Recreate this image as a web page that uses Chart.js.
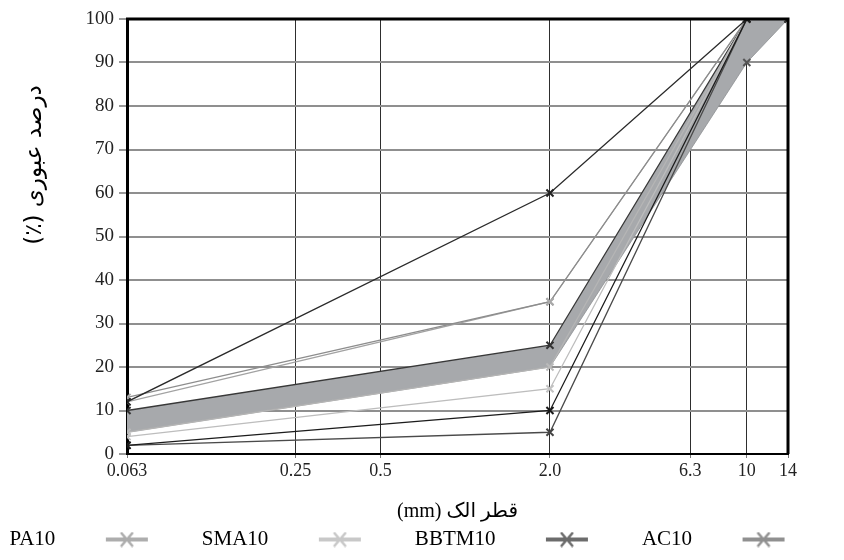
<!DOCTYPE html>
<html>
<head>
<meta charset="utf-8">
<script src="https://cdn.jsdelivr.net/npm/chart.js@4.4.0/dist/chart.umd.min.js"></script>
<style>
  html, body { margin: 0; padding: 0; background: #fff; }
  #wrap { width: 844px; height: 560px; }
</style>
</head>
<body>
<div id="wrap"><canvas id="grading"></canvas></div>
<script>
// ---------- data ----------
// sieve sizes (mm) where every grading curve is read
const sieveSizes = [0.063, 2.0, 10, 14];
const tickValues = [0.063, 0.25, 0.5, 2.0, 6.3, 10, 14];
const tickLabels = ['0.063', '0.25', '0.5', '2.0', '6.3', '10', '14'];

// percent passing, null = curve stops there
const ac10Upper  = [12, 60, 100, null];
const ac10Lower  = [2, 10, 100, null];
const pa10Upper  = [13, 35, 100, null];
const pa10Lower  = [2, 5, 100, null];
const sma10Upper = [12, 35, 100, null];
const sma10Lower = [4, 15, 100, null];
const sma10Mid   = [5, 20, 100, null];
const bbtmUpper  = [10, 25, 100, 100];
const bbtmLower  = [5, 20, 90, 100];

const legendNames  = ['PA10', 'SMA10', 'BBTM10', 'AC10'];
const legendColors = ['#adadad', '#c8c8c8', '#6c6c6c', '#909090'];

const xTitle = 'قطر الک (mm)';
const yTitle = 'درصد عبوری (٪)';

// ---------- helpers ----------
function pts(arr) {
  return sieveSizes.map((x, i) => ({ x: x, y: arr[i] }));
}

function curve(label, arr, color, markColor) {
  return {
    label: label,
    data: pts(arr),
    yAxisID: 'y',
    borderColor: color,
    borderWidth: 1.3,
    pointStyle: 'crossRot',
    pointRadius: 5,
    pointBorderWidth: 2,
    pointBorderColor: markColor || color,
    pointBackgroundColor: 'transparent',
    fill: false,
    tension: 0
  };
}

// line + cross swatch for the legend, blank on the right keeps items apart
function legendSwatch(color) {
  const c = document.createElement('canvas');
  c.width = 132; c.height = 16;
  const g = c.getContext('2d');
  g.strokeStyle = color;
  g.lineWidth = 4;
  g.beginPath(); g.moveTo(40, 8); g.lineTo(82, 8); g.stroke();
  g.lineWidth = 2.5;
  g.beginPath();
  g.moveTo(55, 1); g.lineTo(67, 15);
  g.moveTo(67, 1); g.lineTo(55, 15);
  g.stroke();
  return c;
}

// frame on top/right + axis titles
const framePlugin = {
  id: 'framePlugin',
  afterDraw(chart) {
    const { ctx, chartArea: a } = chart;
    ctx.save();
    ctx.strokeStyle = '#000';
    ctx.lineWidth = 3;
    ctx.beginPath();
    ctx.moveTo(a.left - 1, a.top); ctx.lineTo(a.right, a.top); ctx.lineTo(a.right, a.bottom);
    ctx.stroke();

    ctx.fillStyle = '#000';
    ctx.textAlign = 'center';
    ctx.textBaseline = 'middle';
    ctx.direction = 'rtl';
    ctx.font = '20px "Liberation Serif", "DejaVu Sans", serif';
    ctx.fillText(xTitle, (a.left + a.right) / 2, 512);
    ctx.translate(35, 165);
    ctx.rotate(-Math.PI / 2);
    ctx.font = '23px "DejaVu Sans", sans-serif';
    ctx.fillText(yTitle, 0, 0);
    ctx.restore();
  }
};

const bandFill = Object.assign(curve('BBTM10 min', bbtmLower, '#8e9093', '#555'), {
  borderWidth: 0.8,
  pointRadius: [0, 0, 5, 5],
  fill: '-1',
  backgroundColor: '#a7a9ac'
});

const datasets = [
  curve('AC10', ac10Upper, '#2a2a2a', '#222'),
  curve('AC10 min', ac10Lower, '#1c1c1c', '#1a1a1a'),
  curve('PA10', pa10Upper, '#8d8d8d', '#a9a9a9'),
  curve('PA10 min', pa10Lower, '#4a4a4a', '#444'),
  curve('SMA10', sma10Upper, '#a2a2a2', '#a9a9a9'),
  curve('SMA10 min', sma10Lower, '#bdbdbd', '#c2c2c2'),
  curve('SMA10 mid', sma10Mid, '#b5b5b5', '#bababa'),
  curve('BBTM10', bbtmUpper, '#383838', '#333'),
  bandFill
];

const serif = '"Liberation Serif", "Times New Roman", serif';

new Chart(document.getElementById('grading'), {
  type: 'line',
  data: { datasets: datasets },
  plugins: [framePlugin],
  options: {
    responsive: true,
    maintainAspectRatio: false,
    animation: false,
    layout: { padding: { left: 0, right: 0, top: 19, bottom: 0 } },
    scales: {
      x: {
        type: 'logarithmic',
        min: 0.063,
        max: 14,
        afterBuildTicks: (s) => { s.ticks = tickValues.map(v => ({ value: v })); },
        afterFit: (s) => { s.height = 71; },
        ticks: {
          autoSkip: false,
          maxRotation: 0,
          padding: 2,
          color: '#222',
          font: { family: serif, size: 18 },
          callback: (v, i) => tickLabels[i]
        },
        grid: { color: '#2e2e2e', lineWidth: 1, tickLength: 4, tickColor: '#777' },
        border: { color: '#000', width: 2 }
      },
      y: {
        min: 0,
        max: 100,
        afterFit: (s) => { s.width = 127; },
        ticks: {
          stepSize: 10,
          padding: 5,
          color: '#222',
          font: { family: serif, size: 19 }
        },
        grid: { color: '#8f8f8f', lineWidth: 2, tickLength: 8, tickColor: '#999' },
        border: { color: '#000', width: 3 }
      },
      // empty strip on the right so the legend keeps the full width
      side: {
        position: 'right',
        afterFit: (s) => { s.width = 56; },
        ticks: { display: false },
        grid: { display: false, drawTicks: false },
        border: { display: false }
      }
    },
    plugins: {
      filler: { drawTime: 'beforeDatasetsDraw' },
      tooltip: { enabled: false },
      legend: {
        position: 'bottom',
        rtl: true,
        labels: {
          usePointStyle: true,
          pointStyleWidth: 132,
          boxHeight: 16,
          padding: 4,
          color: '#000',
          font: { family: serif, size: 21 },
          generateLabels: () => legendNames.slice().reverse().map((name, i) => ({
            text: name,
            pointStyle: legendSwatch(legendColors[legendNames.length - 1 - i]),
            fillStyle: 'transparent',
            strokeStyle: 'transparent',
            lineWidth: 0,
            fontColor: '#000',
            hidden: false
          }))
        }
      }
    }
  }
});
</script>
</body>
</html>
